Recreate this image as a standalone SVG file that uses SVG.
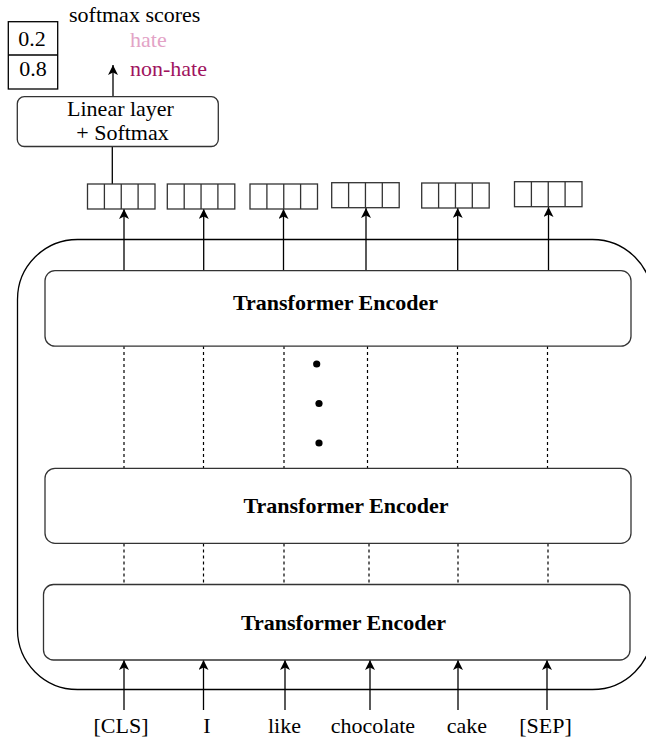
<svg xmlns="http://www.w3.org/2000/svg" xmlns:xlink="http://www.w3.org/1999/xlink" width="646" height="743" viewBox="0 0 646 743">
<style>
text{font-family:"Liberation Serif","Times New Roman",serif;font-size:22px;fill:#000}
.b{font-weight:bold;text-anchor:middle}
.m{text-anchor:middle}
.box{fill:#fff;stroke:#333;stroke-width:1.3}
.ln{fill:none;stroke:#000;stroke-width:1.3}
.ar{fill:none;stroke:#000;stroke-width:1.3;marker-end:url(#ah)}
.dash{fill:none;stroke:#000;stroke-width:1.2;stroke-dasharray:3 3}
</style>
<defs>
<marker id="ah" viewBox="0 0 10 10" refX="10" refY="5" markerWidth="10" markerHeight="10" markerUnits="userSpaceOnUse" orient="auto">
<path d="M0,0 L10,5 L0,10 L2.5,5 z" fill="#000"/>
</marker>
<g id="vec">
<rect x="0" y="0" width="67.5" height="25" class="box"/>
<path d="M16.9,0V25M33.75,0V25M50.6,0V25" stroke="#333" stroke-width="1.3"/>
</g>
</defs>

<g id="outer">
<rect x="17.5" y="239.5" width="635" height="450" rx="60" ry="60" fill="none" stroke="#000" stroke-width="1.3"/>
</g>

<g id="connectors">
<line x1="124" y1="270.5" x2="124" y2="209" class="ar"/>
<line x1="203.7" y1="270.5" x2="203.7" y2="209" class="ar"/>
<line x1="283.5" y1="270.5" x2="283.5" y2="209" class="ar"/>
<line x1="366" y1="270.5" x2="366" y2="208" class="ar"/>
<line x1="457.7" y1="270.5" x2="457.7" y2="208" class="ar"/>
<line x1="548.5" y1="270.5" x2="548.5" y2="207" class="ar"/>
<path class="dash" d="M124,346V468M203.5,346V468M284,346V468M367.5,346V468M457.5,346V468M547.5,346V468"/>
<path class="dash" d="M124,543.5V584.5M203.5,543.5V584.5M284,543.5V584.5M369,543.5V584.5M458,543.5V584.5M548,543.5V584.5"/>
<line x1="124" y1="710" x2="124" y2="660" class="ar"/>
<line x1="203.5" y1="710" x2="203.5" y2="660" class="ar"/>
<line x1="285" y1="710" x2="285" y2="660" class="ar"/>
<line x1="370" y1="710" x2="370" y2="660" class="ar"/>
<line x1="458" y1="710" x2="458" y2="660" class="ar"/>
<line x1="547" y1="710" x2="547" y2="660" class="ar"/>
<line x1="112.3" y1="184" x2="112.3" y2="146.5" class="ln"/>
<line x1="113" y1="96.7" x2="113" y2="65" class="ar"/>
</g>

<g id="dots" fill="#000">
<circle cx="316.7" cy="364" r="3.6"/>
<circle cx="319" cy="403.5" r="3.6"/>
<circle cx="319" cy="443" r="3.6"/>
</g>

<g id="enc1">
<rect x="45" y="270.7" width="586" height="75.5" rx="10" ry="10" class="box"/>
<text x="335.5" y="310" class="b">Transformer Encoder</text>
</g>
<g id="enc2">
<rect x="45" y="468.3" width="586" height="75" rx="10" ry="10" class="box"/>
<text x="346" y="513" class="b">Transformer Encoder</text>
</g>
<g id="enc3">
<rect x="43.5" y="584.5" width="586.5" height="75.5" rx="10" ry="10" class="box"/>
<text x="343.5" y="630" class="b">Transformer Encoder</text>
</g>

<g id="vec1"><use xlink:href="#vec" href="#vec" x="87.5" y="184"/></g>
<g id="vec2"><use xlink:href="#vec" href="#vec" x="167.3" y="184"/></g>
<g id="vec3"><use xlink:href="#vec" href="#vec" x="250" y="184"/></g>
<g id="vec4"><use xlink:href="#vec" href="#vec" x="331.7" y="182.7"/></g>
<g id="vec5"><use xlink:href="#vec" href="#vec" x="421.7" y="183"/></g>
<g id="vec6"><use xlink:href="#vec" href="#vec" x="514.5" y="181.7"/></g>

<g id="linear">
<rect x="17.3" y="96.7" width="201" height="49.8" rx="7" ry="7" class="box"/>
<text x="120.5" y="116" class="m">Linear layer</text>
<text x="122.5" y="140" class="m">+ Softmax</text>
</g>

<g id="scores">
<rect x="8.3" y="21.7" width="49.4" height="67.3" fill="#fff" stroke="#000" stroke-width="1.3"/>
<line x1="8.3" y1="55" x2="57.7" y2="55" stroke="#000" stroke-width="1.3"/>
<text x="32" y="45.7" class="m">0.2</text>
<text x="33" y="76" class="m">0.8</text>
</g>

<g id="labels">
<text x="69" y="22">softmax scores</text>
<text x="130" y="47" style="fill:#E3A3C6">hate</text>
<text x="130" y="75.5" style="fill:#A0135E">non-hate</text>
</g>

<g id="inputs">
<text x="121" y="733" class="m">[CLS]</text>
<text x="207" y="733" class="m">I</text>
<text x="284.5" y="733" class="m">like</text>
<text x="373" y="733" class="m">chocolate</text>
<text x="467" y="733" class="m">cake</text>
<text x="545.5" y="733" class="m">[SEP]</text>
</g>
</svg>
